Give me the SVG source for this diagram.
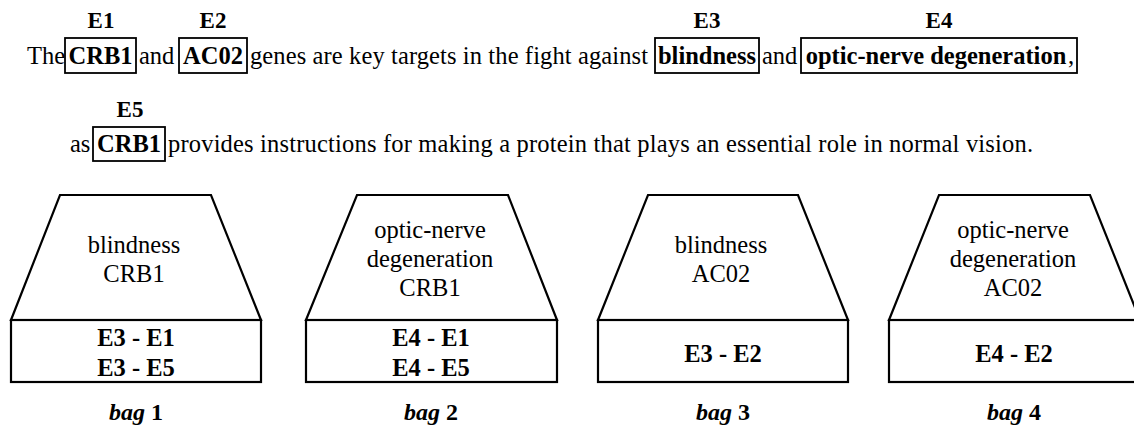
<svg xmlns="http://www.w3.org/2000/svg" width="1134" height="438" viewBox="0 0 1134 438">
  <style>
    text { fill: #000; }
    .txt { font-size: 24.5px; }
    .ent { font-size: 24.5px; font-weight: bold; text-anchor: middle; }
    .tag { font-size: 23px; font-weight: bold; text-anchor: middle; }
    .mark { fill: none; stroke: #000; stroke-width: 1.8; }
    .shape { fill: #fff; stroke: #000; stroke-width: 2.2; stroke-linejoin: miter; }
    .lbl { font-size: 24.5px; text-anchor: middle; }
    .pair { font-size: 24.5px; font-weight: bold; text-anchor: middle; }
    .bag { font-size: 24px; font-weight: bold; text-anchor: middle; }
  </style>

  <rect width="1134" height="438" fill="#fff"/>

  <!-- annotated sentence -->
  <g id="sentence">
    <!-- line 1 -->
    <text class="tag" font-family="Liberation Serif" x="101" y="28">E1</text>
    <text class="tag" font-family="Liberation Serif" x="213" y="28">E2</text>
    <text class="tag" font-family="Liberation Serif" x="707" y="28">E3</text>
    <text class="tag" font-family="Liberation Serif" x="939" y="28">E4</text>

    <text class="txt" font-family="Liberation Serif" x="27" y="64">The</text>
    <rect class="mark" x="65" y="38" width="71" height="35"/>
    <text class="ent" font-family="Liberation Serif" x="100.5" y="64">CRB1</text>
    <text class="txt" font-family="Liberation Serif" x="139" y="64">and</text>
    <rect class="mark" x="179" y="38" width="68" height="35"/>
    <text class="ent" font-family="Liberation Serif" x="213" y="64">AC02</text>
    <text class="txt" font-family="Liberation Serif" x="250" y="64" textLength="398" lengthAdjust="spacing">genes are key targets in the fight against</text>
    <rect class="mark" x="655" y="38" width="104" height="35"/>
    <text class="ent" font-family="Liberation Serif" x="707" y="64">blindness</text>
    <text class="txt" font-family="Liberation Serif" x="762" y="64">and</text>
    <rect class="mark" x="801" y="38" width="276" height="35"/>
    <text class="ent" font-family="Liberation Serif" x="936" y="64">optic-nerve degeneration</text>
    <text class="txt" font-family="Liberation Serif" x="1068" y="64">,</text>

    <!-- line 2 -->
    <text class="tag" font-family="Liberation Serif" x="130" y="117">E5</text>
    <text class="txt" font-family="Liberation Serif" x="70" y="152">as</text>
    <rect class="mark" x="93" y="127" width="72" height="34"/>
    <text class="ent" font-family="Liberation Serif" x="129" y="152">CRB1</text>
    <text class="txt" font-family="Liberation Serif" x="168" y="152" textLength="865" lengthAdjust="spacing">provides instructions for making a protein that plays an essential role in normal vision.</text>
  </g>

  <!-- bag 1 -->
  <g id="bag1">
    <polygon class="shape" points="60,195 211,195 261,320 11,320"/>
    <rect class="shape" x="11" y="320" width="250" height="62"/>
    <text class="lbl" font-family="Liberation Serif" x="134" y="253">blindness</text>
    <text class="lbl" font-family="Liberation Serif" x="134" y="282">CRB1</text>
    <text class="pair" font-family="Liberation Serif" x="136" y="346">E3 - E1</text>
    <text class="pair" font-family="Liberation Serif" x="136" y="376">E3 - E5</text>
    <text class="bag" font-family="Liberation Serif" x="136" y="420"><tspan font-style="italic">bag</tspan> 1</text>
  </g>

  <!-- bag 2 -->
  <g id="bag2">
    <polygon class="shape" points="357,195 508,195 557,320 306,320"/>
    <rect class="shape" x="306" y="320" width="251" height="62"/>
    <text class="lbl" font-family="Liberation Serif" x="430" y="238">optic-nerve</text>
    <text class="lbl" font-family="Liberation Serif" x="430" y="267">degeneration</text>
    <text class="lbl" font-family="Liberation Serif" x="430" y="296">CRB1</text>
    <text class="pair" font-family="Liberation Serif" x="431" y="346">E4 - E1</text>
    <text class="pair" font-family="Liberation Serif" x="431" y="376">E4 - E5</text>
    <text class="bag" font-family="Liberation Serif" x="431" y="420"><tspan font-style="italic">bag</tspan> 2</text>
  </g>

  <!-- bag 3 -->
  <g id="bag3">
    <polygon class="shape" points="648,195 798,195 848,320 598,320"/>
    <rect class="shape" x="598" y="320" width="250" height="62"/>
    <text class="lbl" font-family="Liberation Serif" x="721" y="253">blindness</text>
    <text class="lbl" font-family="Liberation Serif" x="721" y="282">AC02</text>
    <text class="pair" font-family="Liberation Serif" x="723" y="362">E3 - E2</text>
    <text class="bag" font-family="Liberation Serif" x="723" y="420"><tspan font-style="italic">bag</tspan> 3</text>
  </g>

  <!-- bag 4 -->
  <g id="bag4">
    <polygon class="shape" points="939,195 1090,195 1140,320 889,320"/>
    <rect class="shape" x="889" y="320" width="251" height="62"/>
    <text class="lbl" font-family="Liberation Serif" x="1013" y="238">optic-nerve</text>
    <text class="lbl" font-family="Liberation Serif" x="1013" y="267">degeneration</text>
    <text class="lbl" font-family="Liberation Serif" x="1013" y="296">AC02</text>
    <text class="pair" font-family="Liberation Serif" x="1014" y="362">E4 - E2</text>
    <text class="bag" font-family="Liberation Serif" x="1014" y="420"><tspan font-style="italic">bag</tspan> 4</text>
  </g>

  <!-- no connectors between the bags -->
  <g id="connectors"/>
</svg>
